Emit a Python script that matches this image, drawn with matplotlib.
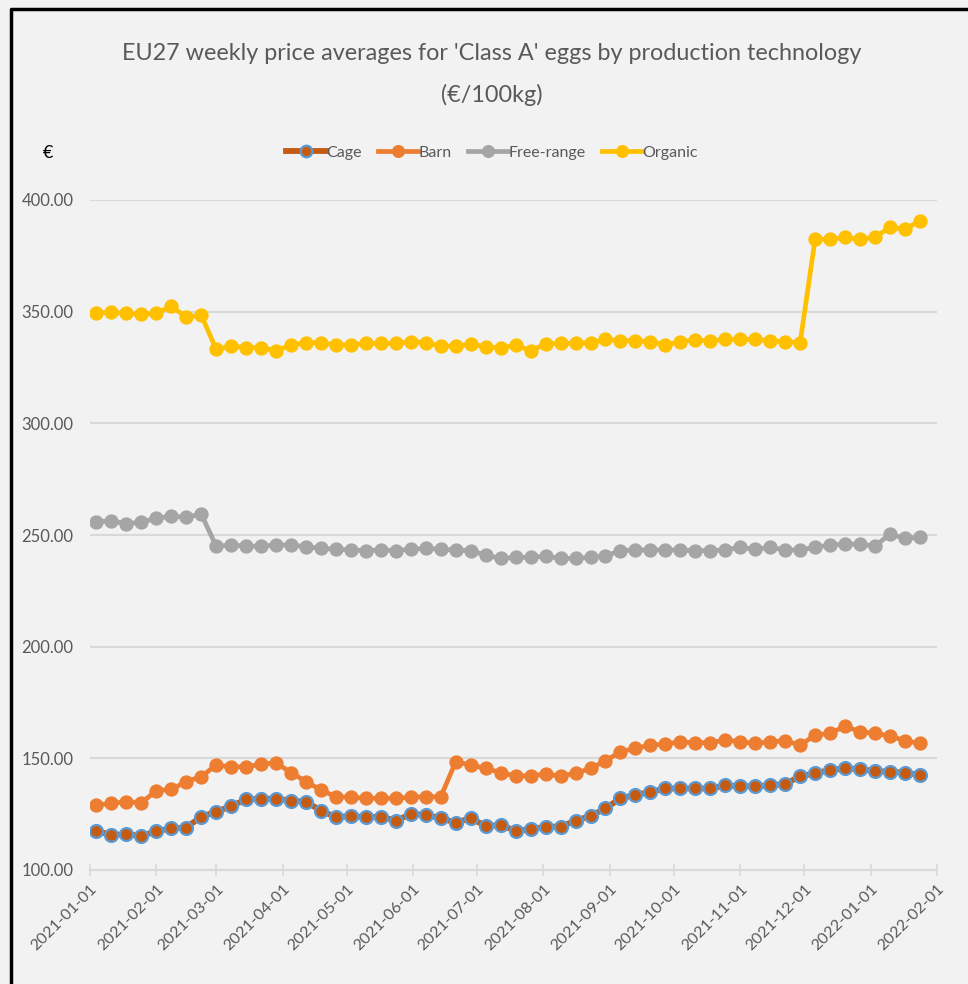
import numpy as np
import pandas as pd
import matplotlib
matplotlib.use('Agg')
import matplotlib.pyplot as plt
import matplotlib.dates as mdates

# weekly observations, Monday of each week
weeks = pd.date_range('2021-01-04', periods=56, freq='7D')

cage = [117.6, 115.6, 116.1, 115.2, 117.4, 118.6, 119.0, 123.9, 126.1, 128.6,
        131.6, 131.9, 131.9, 131.1, 130.5, 126.6, 123.6, 124.2, 123.6, 123.9,
        122.1, 125.0, 124.7, 123.2, 121.2, 123.2, 119.7, 120.1, 117.6, 118.2,
        119.4, 119.4, 122.1, 124.2, 127.6, 132.1, 133.6, 135.0, 136.5, 136.5,
        136.5, 136.5, 137.9, 137.5, 137.5, 137.9, 138.5, 142.0, 143.3, 144.8,
        145.5, 145.1, 144.3, 144.0, 143.6, 142.5]
barn = [129.1, 129.8, 130.6, 130.1, 135.5, 136.1, 139.6, 141.8, 147.0, 146.2,
        146.2, 147.4, 148.0, 143.6, 139.6, 135.8, 132.8, 132.6, 132.1, 132.1,
        132.1, 132.6, 132.8, 132.8, 148.5, 147.0, 145.5, 143.6, 142.1, 142.1,
        143.0, 142.1, 143.3, 145.5, 148.9, 152.9, 154.5, 155.9, 156.4, 157.4,
        157.0, 157.0, 158.2, 157.4, 156.7, 157.4, 157.9, 155.9, 160.4, 161.2,
        164.4, 161.9, 161.2, 160.0, 157.9, 156.7]
free_range = [255.9, 256.4, 254.9, 255.9, 257.4, 258.5, 257.9, 259.4, 245.0, 245.5,
              245.0, 245.0, 245.5, 245.5, 244.8, 244.0, 243.6, 243.3, 243.0, 243.3,
              243.0, 243.6, 244.0, 243.6, 243.3, 243.0, 241.0, 239.5, 240.0, 240.0,
              240.6, 239.5, 239.5, 240.0, 240.6, 243.0, 243.3, 243.3, 243.3, 243.3,
              243.0, 243.0, 243.3, 244.5, 243.6, 244.5, 243.3, 243.3, 244.5, 245.5,
              245.9, 245.9, 245.0, 250.4, 248.5, 248.9]
organic = [349.5, 349.7, 349.2, 348.8, 349.2, 352.5, 347.5, 348.5, 333.1, 334.6,
           333.9, 333.9, 332.5, 335.1, 336.1, 336.1, 335.1, 335.1, 335.8, 335.8,
           335.8, 336.6, 336.1, 334.6, 334.6, 335.5, 334.3, 333.6, 335.1, 332.5,
           335.5, 335.8, 335.8, 336.1, 337.6, 337.0, 337.0, 336.6, 335.1, 336.6,
           337.3, 337.0, 337.6, 337.6, 337.6, 337.0, 336.6, 336.1, 382.4, 382.4,
           383.3, 382.4, 383.3, 387.8, 386.9, 390.7]

plt.rcParams['font.family'] = ['Lato', 'DejaVu Sans']

bg = '#F2F2F2'
text_grey = '#595959'
grid_grey = '#D9D9D9'

fig = plt.figure(figsize=(9.68, 9.84), dpi=100, facecolor=bg)
ax = fig.add_axes([90 / 968, 1 - 870 / 984, 847 / 968, 670 / 984])
ax.set_facecolor(bg)

ax.plot(weeks, cage, color='#C55A11', lw=4.2, marker='o', ms=9.3,
        mfc='#C55A11', mec='#5B9BD5', mew=1.6, label='Cage', zorder=3)
ax.plot(weeks, barn, color='#ED7D31', lw=3.4, marker='o', ms=9.3,
        mfc='#ED7D31', mec='#ED7D31', label='Barn', zorder=3)
ax.plot(weeks, free_range, color='#A5A5A5', lw=3.4, marker='o', ms=9.3,
        mfc='#A5A5A5', mec='#A5A5A5', label='Free-range', zorder=3)
ax.plot(weeks, organic, color='#FFC000', lw=3.4, marker='o', ms=9.3,
        mfc='#FFC000', mec='#FFC000', label='Organic', zorder=3)

ax.set_ylim(100, 400)
ax.set_yticks(np.arange(100, 401, 50))
ax.yaxis.set_major_formatter(matplotlib.ticker.FormatStrFormatter('%.2f'))
ax.set_xlim(pd.Timestamp('2021-01-01'), pd.Timestamp('2022-02-01'))
ax.xaxis.set_major_locator(mdates.MonthLocator())
ax.xaxis.set_major_formatter(mdates.DateFormatter('%Y-%m-%d'))

ax.grid(axis='y', color=grid_grey, lw=1.5, zorder=0)
for s in ['top', 'right', 'left']:
    ax.spines[s].set_visible(False)
ax.spines['bottom'].set_color(grid_grey)
ax.spines['bottom'].set_linewidth(1.5)
ax.tick_params(axis='y', length=0, pad=12, labelsize=12, labelcolor=text_grey)
ax.tick_params(axis='x', direction='inout', length=9, width=1.2, color=grid_grey,
               pad=4, labelsize=11.5, labelcolor=text_grey)
for lbl in ax.get_xticklabels():
    lbl.set_rotation(45)
    lbl.set_ha('right')
    lbl.set_va('top')
    lbl.set_rotation_mode('anchor')

fig.text(492 / 968, 1 - 53 / 984, "EU27 weekly price averages for 'Class A' eggs by production technology",
         ha='center', va='center', fontsize=16.8, color=text_grey)
fig.text(492 / 968, 1 - 95 / 984, '(€/100kg)', ha='center', va='center', fontsize=16.8, color=text_grey)
fig.text(48 / 968, 1 - 153 / 984, '€', ha='center', va='center', fontsize=13, color='black')

fig.legend(loc='center', bbox_to_anchor=(492 / 968, 1 - 153 / 984), ncol=4, frameon=False,
           fontsize=11.5, labelcolor=text_grey, handlelength=2.5, handletextpad=0.05,
           columnspacing=1.0, markerscale=0.9)

# black frame on the top and left edge of the cropped image
fig.add_artist(plt.Line2D([11 / 968, 11 / 968, 1.0], [0.0, 1 - 9 / 984, 1 - 9 / 984],
                          color='black', lw=2.5, transform=fig.transFigure))

fig.savefig('out.png', dpi=100, facecolor=bg)
